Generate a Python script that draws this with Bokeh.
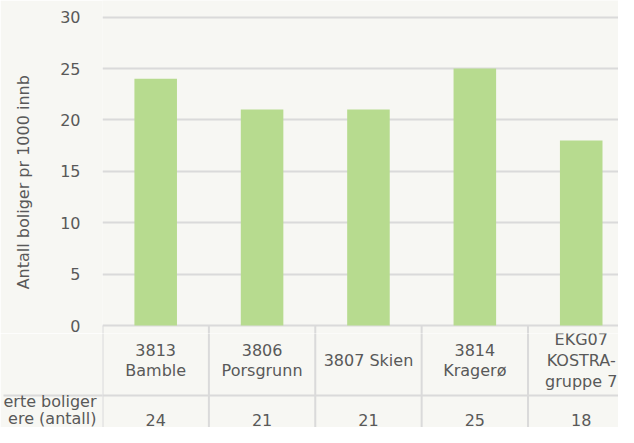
from bokeh.plotting import figure
from bokeh.models import Range1d, FixedTicker, ColumnDataSource
from bokeh.layouts import column
from bokeh.embed import file_html
from bokeh.resources import INLINE
from bokeh.core.properties import value

# ---- data ----
categories = ["3813\nBamble", "3806\nPorsgrunn", "3807 Skien", "3814\nKragerø", "EKG07\nKOSTRA-\ngruppe 7"]
values = [24, 21, 21, 25, 18]
y_ticks = [0, 5, 10, 15, 20, 25, 30]
y_title = "Antall boliger pr 1000 innb"
row_title = ["erte boliger", "ere (antall)"]

# ---- styles ----
BG = "#f7f7f3"
BAR = "#b7db8f"
GRID = "#dadada"
TXT = "#595959"
FONT = "DejaVu Sans"
FS = "16px"

n = len(categories)
centers = [i + 0.5 for i in range(n)]
W = 618
LEFT = 99
col_w_px = 107.0
xr = Range1d(0, (W - LEFT) / col_w_px)
px_per_unit = 10.28
y0_px = 325.0
SPLIT = 333
H = 427


def style(fig):
    fig.background_fill_color = BG
    fig.border_fill_color = BG
    fig.outline_line_color = None
    fig.xgrid.visible = False
    ax = fig.yaxis[0]
    ax.axis_line_color = None
    ax.major_tick_line_color = None
    ax.minor_tick_line_color = None
    ax.major_label_text_font = FONT
    ax.major_label_text_font_size = FS
    ax.major_label_text_color = TXT


bounds = list(range(n + 1))
src = ColumnDataSource(dict(x=centers, top=values, cat=categories,
                            val=[str(v) for v in values]))


def column_rules(fig, **kw):
    fig.segment(x0=bounds, x1=bounds, y0=[y0_px] * (n + 1), y1=[H + 5] * (n + 1),
                line_color=GRID, line_width=2, **kw)


# ---- chart ----
p = figure(width=W, height=SPLIT, x_range=xr,
           y_range=Range1d(-(SPLIT - y0_px) / px_per_unit, 30 + 16.6 / px_per_unit),
           x_axis_type=None,
           min_border_left=LEFT, min_border_right=0, min_border_top=0, min_border_bottom=0,
           output_backend="svg", toolbar_location=None)
p.extra_y_ranges = {"tbl": Range1d(start=SPLIT, end=0)}
style(p)
ax = p.yaxis[0]
ax.ticker = FixedTicker(ticks=y_ticks)
ax.major_label_standoff = 16
ax.axis_label = y_title + "\u00a0" * 6
ax.axis_label_text_font = FONT
ax.axis_label_text_font_size = FS
ax.axis_label_text_font_style = "normal"
ax.axis_label_text_color = TXT
ax.axis_label_standoff = 24

p.ygrid.ticker = FixedTicker(ticks=y_ticks)
p.ygrid.grid_line_color = GRID
p.ygrid.grid_line_width = 2

p.vbar(x="x", top="top", bottom=0, width=0.40, source=src,
       fill_color=BAR, line_color=None)
column_rules(p, y_range_name="tbl")

# ---- data table ----
q = figure(width=W, height=H - SPLIT, x_range=xr,
           y_range=Range1d(start=H, end=SPLIT),
           x_axis_type=None,
           min_border_left=LEFT, min_border_right=0, min_border_top=0, min_border_bottom=0,
           output_backend="svg", toolbar_location=None)
style(q)
q.ygrid.visible = False
qa = q.yaxis[0]
qa.ticker = FixedTicker(ticks=[401, 418], minor_ticks=[395])
qa.major_label_overrides = {401: row_title[0], 418: row_title[1]}
qa.major_tick_out = 0
qa.major_tick_in = 0
qa.minor_tick_in = 0
qa.minor_tick_out = LEFT
qa.minor_tick_line_color = GRID
qa.minor_tick_line_width = 2
qa.major_label_standoff = -93

column_rules(q)
q.segment(x0=[0], x1=[n + 1], y0=[395], y1=[395], line_color=GRID, line_width=2)
q.text(x="x", y=360, text="cat", source=src,
       text_align="center", text_baseline="middle", text_line_height=1.1,
       text_font=value(FONT), text_font_size=FS, text_color=TXT)
q.text(x="x", y=419, text="val", source=src,
       text_align="center", text_baseline="middle",
       text_font=value(FONT), text_font_size=FS, text_color=TXT)

layout = column(p, q, spacing=0)
open("out.html", "w").write(file_html(layout, INLINE))
